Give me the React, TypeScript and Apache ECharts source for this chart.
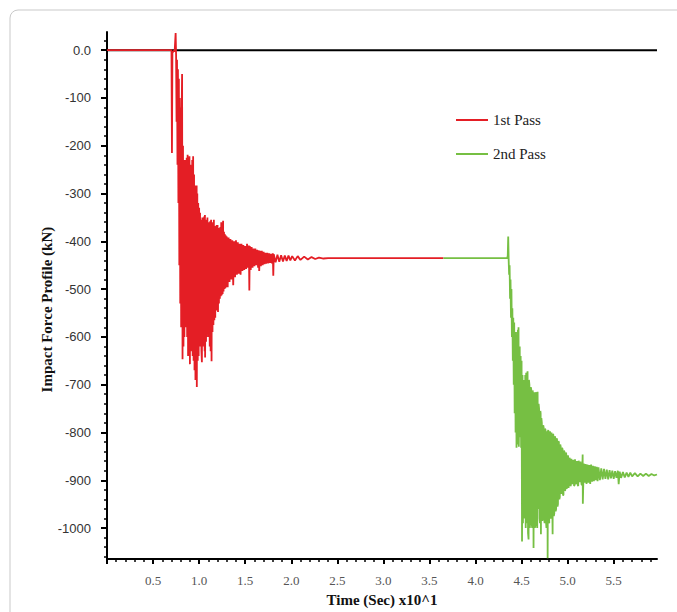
import React, { useEffect, useRef } from "react";
import * as echarts from "echarts";

const seriesNames = ["1st Pass", "2nd Pass"];

const xLabelValues = [0.5, 1.0, 1.5, 2.0, 2.5, 3.0, 3.5, 4.0, 4.5, 5.0, 5.5];
const xMajorTicks = [0, 0.5, 1.0, 1.5, 2.0, 2.5, 3.0, 3.5, 4.0, 4.5, 5.0, 5.5];
const xMinorTicks = [
  0.1, 0.2, 0.3, 0.4, 0.6, 0.7, 0.8, 0.9, 1.1, 1.2, 1.3, 1.4, 1.6, 1.7, 1.8, 1.9,
  2.1, 2.2, 2.3, 2.4, 2.6, 2.7, 2.8, 2.9, 3.1, 3.2, 3.3, 3.4, 3.6, 3.7, 3.8, 3.9,
  4.1, 4.2, 4.3, 4.4, 4.6, 4.7, 4.8, 4.9, 5.1, 5.2, 5.3, 5.4, 5.6, 5.7, 5.8, 5.9,
];
const yLabelValues = [-1000, -900, -800, -700, -600, -500, -400, -300, -200, -100, 0];
const yMinorTicks = [
  -1060, -1040, -1020, -980, -960, -940, -920, -880, -860, -840, -820, -780, -760,
  -740, -720, -680, -660, -640, -620, -580, -560, -540, -520, -480, -460, -440, -420,
  -380, -360, -340, -320, -280, -260, -240, -220, -180, -160, -140, -120, -80, -60,
  -40, -20, 20,
];

const xMin = 0;
const xMax = 5.97;
const yMin = -1065;
const yMax = 38;

const zeroLine = [
  [0, 0],
  [5.97, 0],
];

const firstPass = [
  [0.0, 0], [0.7, 0], [0.705, -215], [0.71, -5], [0.735, 0], [0.745, 36], [0.75, -10],
  [0.755, -150], [0.76, -20], [0.765, -240], [0.77, -40], [0.775, -320], [0.78, -60],
  [0.785, -450], [0.79, -100], [0.795, -530], [0.8, -120], [0.805, -580],
  [0.81, -140], [0.815, -50], [0.82, -647], [0.825, -200], [0.83, -620], [0.835, -240],
  [0.84, -600], [0.845, -230], [0.85, -580], [0.855, -230],
  [0.86, -560], [0.865, -225], [0.87, -600], [0.875, -219], [0.88, -640], [0.885, -225],
  [0.89, -620], [0.895, -222], [0.9, -657], [0.905, -240], [0.91, -630], [0.915, -250],
  [0.92, -600], [0.925, -230], [0.93, -640], [0.935, -222], [0.94, -650], [0.945, -260],
  [0.95, -670], [0.955, -283], [0.96, -690], [0.965, -290], [0.97, -660], [0.973, -283],
  [0.975, -705], [0.98, -300], [0.985, -650], [0.99, -320], [0.995, -640], [1.0, -330],
  [1.005, -610], [1.01, -340], [1.015, -620], [1.02, -355], [1.025, -630],
  [1.03, -653], [1.035, -350], [1.04, -620], [1.045, -352], [1.05, -610], [1.055, -348],
  [1.06, -630], [1.063, -345], [1.065, -643], [1.07, -360], [1.075, -610],
  [1.08, -355], [1.085, -600], [1.09, -350], [1.095, -590], [1.1, -362], [1.105, -600],
  [1.11, -360], [1.115, -620], [1.12, -358], [1.125, -630], [1.13, -355],
  [1.135, -651], [1.14, -365], [1.145, -590], [1.15, -360], [1.155, -575], [1.16, -355],
  [1.165, -565], [1.17, -368], [1.175, -560], [1.18, -370], [1.185, -545],
  [1.19, -366], [1.195, -540], [1.2, -366], [1.205, -548], [1.21, -372], [1.215, -530],
  [1.22, -375], [1.225, -520], [1.23, -370], [1.235, -515], [1.24, -360],
  [1.245, -513], [1.25, -362], [1.255, -510], [1.26, -357], [1.265, -505], [1.27, -380],
  [1.275, -500], [1.28, -385], [1.285, -498], [1.29, -388], [1.295, -496], [1.3, -390],
  [1.31, -496], [1.32, -392], [1.33, -485], [1.34, -395], [1.35, -480], [1.36, -398],
  [1.37, -492], [1.38, -400], [1.39, -475], [1.4, -398], [1.41, -470], [1.42, -402],
  [1.43, -468], [1.44, -405], [1.45, -470], [1.46, -405], [1.47, -462], [1.48, -408],
  [1.49, -460], [1.5, -410], [1.51, -458], [1.52, -405], [1.53, -455], [1.54, -409],
  [1.545, -503], [1.55, -410], [1.56, -460], [1.57, -412], [1.58, -455], [1.59, -415],
  [1.6, -452], [1.61, -415], [1.62, -450], [1.63, -418], [1.64, -455], [1.65, -419],
  [1.652, -462], [1.66, -420], [1.67, -452], [1.68, -420], [1.69, -450], [1.7, -422],
  [1.71, -448], [1.72, -424], [1.73, -447], [1.74, -424], [1.75, -446], [1.76, -425],
  [1.77, -445], [1.78, -426], [1.79, -446], [1.8, -425], [1.805, -472], [1.81, -427],
  [1.83, -444], [1.85, -428], [1.87, -443], [1.89, -429], [1.91, -442], [1.93, -430],
  [1.95, -441], [1.97, -430], [1.99, -440], [2.01, -431], [2.04, -440], [2.07, -431],
  [2.1, -439], [2.14, -432], [2.18, -438], [2.22, -433], [2.26, -437], [2.3, -434],
  [2.35, -436], [2.4, -435], [3.652, -435],
];

const secondPass = [
  [3.652, -435], [4.345, -435], [4.35, -430], [4.355, -390], [4.36, -440], [4.365, -470],
  [4.37, -450], [4.375, -520], [4.38, -480], [4.385, -560], [4.39, -500], [4.395, -600],
  [4.4, -540], [4.405, -650], [4.41, -560], [4.415, -700], [4.42, -570], [4.425, -760],
  [4.43, -590], [4.435, -800], [4.44, -600], [4.445, -832], [4.45, -590], [4.455, -800],
  [4.46, -585], [4.465, -825], [4.467, -580], [4.47, -830], [4.48, -620], [4.485, -810],
  [4.49, -640], [4.495, -832], [4.5, -650], [4.505, -1028], [4.51, -680], [4.515, -990],
  [4.52, -690], [4.525, -980], [4.53, -690], [4.535, -960], [4.54, -680], [4.545, -1000],
  [4.55, -675], [4.555, -990], [4.56, -680], [4.565, -672], [4.57, -1010], [4.576, -1024],
  [4.58, -690], [4.585, -700], [4.59, -1000], [4.595, -980], [4.6, -705],
  [4.605, -710], [4.61, -990], [4.615, -1000], [4.62, -712], [4.625, -720], [4.63, -1042],
  [4.635, -718], [4.64, -716], [4.645, -1000], [4.65, -990], [4.655, -720],
  [4.66, -716], [4.665, -990], [4.67, -1000], [4.674, -715], [4.68, -960], [4.685, -740],
  [4.69, -750], [4.695, -980], [4.7, -990], [4.704, -755],
  [4.707, -760], [4.71, -1013], [4.715, -770], [4.72, -780], [4.725, -985], [4.73, -970],
  [4.735, -785], [4.74, -790], [4.745, -980], [4.75, -990], [4.755, -792],
  [4.76, -795], [4.765, -985], [4.77, -1000], [4.775, -798], [4.78, -800], [4.783, -1063],
  [4.787, -797], [4.79, -795], [4.795, -985], [4.8, -990], [4.805, -798],
  [4.81, -800], [4.815, -980], [4.82, -975], [4.825, -800], [4.83, -801], [4.837, -1013],
  [4.84, -803], [4.845, -805], [4.85, -975], [4.855, -970], [4.86, -808],
  [4.865, -810], [4.87, -965], [4.875, -960], [4.88, -812], [4.885, -815], [4.89, -955],
  [4.895, -950], [4.9, -818], [4.905, -820], [4.91, -940], [4.915, -935], [4.92, -825],
  [4.925, -830], [4.93, -928], [4.935, -925], [4.94, -832], [4.945, -835], [4.95, -932],
  [4.955, -930], [4.96, -838], [4.965, -840], [4.97, -922], [4.975, -920], [4.98, -842],
  [4.985, -845], [4.99, -918], [4.995, -918], [5.0, -848], [5.005, -850], [5.01, -916],
  [5.015, -915], [5.02, -853], [5.025, -856], [5.03, -912], [5.035, -910], [5.04, -855],
  [5.045, -855], [5.05, -908], [5.055, -905], [5.06, -857], [5.065, -858], [5.07, -912],
  [5.075, -910], [5.08, -856], [5.085, -855], [5.09, -906], [5.095, -908], [5.1, -860],
  [5.105, -860], [5.11, -910], [5.115, -912], [5.12, -859], [5.125, -858], [5.13, -904],
  [5.135, -905], [5.14, -861], [5.145, -860], [5.15, -908], [5.155, -910],
  [5.163, -846], [5.165, -949], [5.175, -865], [5.185, -905], [5.195, -866], [5.205, -908],
  [5.215, -867], [5.225, -905], [5.235, -868], [5.245, -908], [5.255, -867], [5.265, -903],
  [5.275, -870], [5.285, -902], [5.295, -871], [5.305, -900], [5.315, -872], [5.325, -902],
  [5.335, -873], [5.35, -900], [5.365, -875], [5.38, -898], [5.395, -876], [5.41, -897],
  [5.425, -878], [5.44, -898], [5.455, -879], [5.47, -896], [5.485, -880], [5.5, -897],
  [5.515, -881], [5.53, -895], [5.545, -880], [5.554, -908], [5.565, -882], [5.58, -895],
  [5.6, -883], [5.62, -894], [5.64, -884], [5.66, -893], [5.68, -884], [5.7, -892],
  [5.73, -885], [5.76, -892], [5.79, -886], [5.82, -891], [5.85, -886], [5.88, -891],
  [5.91, -887], [5.94, -890], [5.97, -888],
];

const RED = "#e41e25";
const GREEN = "#76bf43";

export default function App() {
  const ref = useRef<HTMLDivElement>(null);
  useEffect(() => {
    if (!ref.current) return;
    const chart = echarts.init(ref.current, null, { renderer: "svg" });
    const serif = "'Liberation Serif', 'DejaVu Serif', serif";
    const sans = "'Liberation Sans', Arial, sans-serif";
    chart.setOption({
      animation: false,
      backgroundColor: "#ffffff",
      graphic: [
        {
          type: "rect",
          z: -10,
          silent: true,
          shape: { x: 10, y: 10, width: 720, height: 720, r: 8 },
          style: { fill: "none", stroke: "#c9c9c9", lineWidth: 1 },
        },
      ],
      legend: {
        orient: "vertical",
        left: 451,
        top: 106,
        itemWidth: 32,
        itemHeight: 2,
        itemGap: 16,
        icon: "rect",
        data: seriesNames,
        textStyle: { fontFamily: serif, fontSize: 15, color: "#222", lineHeight: 18 },
      },
      grid: { left: 107, top: 32, right: 20, bottom: 45, containLabel: false },
      xAxis: [
        {
          type: "value",
          min: xMin,
          max: xMax,
          position: "bottom",
          axisLine: { show: true, onZero: false, lineStyle: { color: "#000", width: 2 } },
          axisTick: { show: true, customValues: xMajorTicks, length: 5, lineStyle: { color: "#000", width: 2 } },
          axisLabel: {
            customValues: xLabelValues,
            formatter: (v: number) => v.toFixed(1),
            fontFamily: serif,
            fontSize: 13,
            color: "#555",
            margin: 15,
          },
          splitLine: { show: false },
          name: "Time (Sec) x10^1",
          nameLocation: "middle",
          nameGap: 31,
          nameTextStyle: { fontFamily: serif, fontSize: 15, fontWeight: "bold", color: "#111" },
        },
        {
          type: "value",
          min: xMin,
          max: xMax,
          position: "bottom",
          axisLine: { show: false, onZero: false },
          axisTick: { show: true, customValues: xMinorTicks, length: 3, lineStyle: { color: "#000", width: 1.5 } },
          axisLabel: { show: false },
          splitLine: { show: false },
        },
      ],
      yAxis: [
        {
          type: "value",
          min: yMin,
          max: yMax,
          position: "left",
          axisLine: { show: true, onZero: false, lineStyle: { color: "#000", width: 2 } },
          axisTick: { show: true, customValues: yLabelValues, length: 6, lineStyle: { color: "#000", width: 2 } },
          axisLabel: {
            customValues: yLabelValues,
            formatter: (v: number) => (v === 0 ? "0.0" : String(v)),
            fontFamily: sans,
            fontSize: 13,
            color: "#333",
            margin: 16,
          },
          splitLine: { show: false },
          name: "Impact Force Profile (kN)",
          nameLocation: "middle",
          nameGap: 53,
          nameMoveOverlap: false,
          nameRotate: 90,
          nameTextStyle: {
            fontFamily: serif,
            fontSize: 15,
            fontWeight: "bold",
            color: "#111",
            padding: [0, 28, 0, 0],
          },
        },
        {
          type: "value",
          min: yMin,
          max: yMax,
          position: "left",
          axisLine: { show: false, onZero: false },
          axisTick: { show: true, customValues: yMinorTicks, length: 3, lineStyle: { color: "#000", width: 1.5 } },
          axisLabel: { show: false },
          splitLine: { show: false },
        },
      ],
      series: [
        {
          name: "zero",
          type: "line",
          data: zeroLine,
          symbol: "none",
          silent: true,
          z: 1,
          lineStyle: { color: "#000", width: 2 },
        },
        {
          name: seriesNames[0],
          type: "line",
          data: firstPass,
          symbol: "none",
          showSymbol: false,
          z: 3,
          color: RED,
          lineStyle: { color: RED, width: 1.8 },
        },
        {
          name: seriesNames[1],
          type: "line",
          data: secondPass,
          symbol: "none",
          showSymbol: false,
          z: 3,
          color: GREEN,
          lineStyle: { color: GREEN, width: 1.8 },
        },
      ],
    });
    return () => chart.dispose();
  }, []);
  return (
    <div
      ref={ref}
      style={{ position: "absolute", left: 0, top: 0, width: 677, height: 612, background: "#fff" }}
    />
  );
}
